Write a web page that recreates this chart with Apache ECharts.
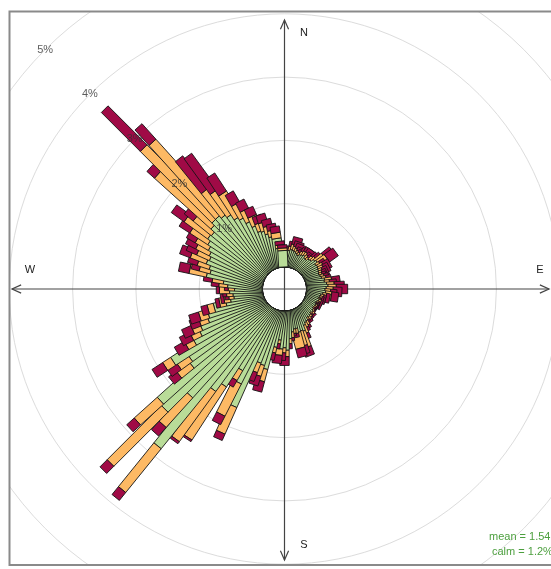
<!DOCTYPE html>
<html>
<head>
<meta charset="utf-8">
<script src="https://cdn.jsdelivr.net/npm/echarts@6/dist/echarts.min.js"></script>
<style>
  html, body { margin: 0; padding: 0; background: #fff; }
  #chart { width: 551px; height: 569px; }
</style>
</head>
<body>
<div id="chart"></div>
<script>
// Wind direction bins (degrees, 3° sectors)
const bearings = [
  0, 3, 6, 9, 12, 15, 18, 21, 24, 27,
  30, 33, 36, 39, 42, 45, 48, 51, 54, 57,
  60, 63, 66, 69, 72, 75, 78, 81, 84, 87,
  90, 93, 96, 99, 102, 105, 108, 111, 114, 117,
  120, 123, 126, 129, 132, 135, 138, 141, 144, 147,
  150, 153, 156, 159, 162, 165, 168, 171, 174, 177,
  180, 183, 186, 189, 192, 195, 198, 201, 204, 207,
  210, 213, 216, 219, 222, 225, 228, 231, 234, 237,
  240, 243, 246, 249, 252, 255, 258, 261, 264, 267,
  270, 273, 276, 279, 282, 285, 288, 291, 294, 297,
  300, 303, 306, 309, 312, 315, 318, 321, 324, 327,
  330, 333, 336, 339, 342, 345, 348, 351, 354, 357
];

// Frequency (%) per direction for each wind speed interval
const lowSpeed = [
  .20, .18, .22, .21, .26, .28, .27, .26, .24, .22,
  .24, .25, .26, .23, .22, .25, .26, .30, .32, .27,
  .28, .27, .26, .25, .24, .25, .26, .30, .29, .32,
  .34, .31, .29, .30, .26, .23, .22, .20, .22, .20,
  .18, .20, .19, .18, .20, .22, .20, .22, .23, .22,
  .26, .27, .30, .38, .36, .37, .30, .30, .34, .44,
  .62, .58, .60, .46, .58, .95, .90, .88, 1.67, 1.30,
  1.10, 1.45, 1.60, 2.84, 1.90, 2.33, 2.29, 1.55, 1.50, 1.75,
  1.30, 1.15, 1.10, .95, .92, .80, .60, .52, .46, .47,
  .52, .44, .55, .62, .90, .85, .88, .95, .92, .95,
  1.00, 1.05, 1.10, 1.08, 1.15, 1.20, 1.20, 1.15, 1.10, 1.00,
  .95, .85, .75, .64, .62, .56, .50, .46, .30, .26
];
const midSpeed = [
  .05, .03, .05, .05, .07, .09, .07, .06, .05, .05,
  .06, .07, .06, .06, .05, .07, .08, .16, .16, .07,
  .09, .08, .06, .05, .05, .06, .07, .11, .08, .12,
  .13, .11, .09, .10, .06, .05, .04, .03, .04, .03,
  .02, .03, .03, .02, .03, .04, .03, .04, .05, .04,
  .07, .08, .13, .26, .24, .25, .08, .07, .09, .08,
  .10, .08, .10, .06, .09, .20, .18, .16, .46, .57,
  .18, 1.00, .98, .89, .63, 1.21, .49, .25, .22, .15,
  .14, .15, .14, .14, .14, .10, .10, .10, .08, .10,
  .16, .10, .14, .18, .28, .18, .20, .27, .22, .24,
  .24, .34, .46, .37, 1.20, 1.60, 1.57, .50, .45, .45,
  .25, .20, .16, .13, .14, .12, .10, .09, .05, .04
];
const highSpeed = [
  .04, .03, .05, .07, .08, .12, .09, .08, .06, .05,
  .07, .08, .08, .06, .05, .09, .10, .16, .17, .09,
  .11, .09, .08, .07, .06, .07, .08, .13, .11, .16,
  .18, .14, .10, .11, .06, .04, .03, .02, .03, .02,
  .02, .02, .02, .02, .02, .03, .02, .03, .04, .03,
  .05, .06, .09, .14, .13, .14, .06, .04, .05, .08,
  .14, .12, .13, .08, .12, .17, .16, .15, .11, .15,
  .12, .03, .04, .16, .18, .16, .16, .15, .18, .20,
  .18, .18, .16, .15, .16, .10, .06, .05, .06, .06,
  .05, .06, .12, .14, .17, .13, .16, .18, .18, .18,
  .16, .20, .25, .18, .16, .87, .33, .65, .70, .34,
  .20, .16, .14, .12, .13, .11, .10, .10, .06, .05
];

// Percentage rings
const ringValues = [1, 2, 3, 4, 5];
const ringLabels = ['1%', '2%', '3%', '4%', '5%'];

const speedColors = ['#B9DC98', '#FDB964', '#A00A46'];
const CX = 284.5, CY = 289;
const HALF_W = 4.7; // half paddle width in px
const FONT = 'Liberation Sans, Arial, Helvetica, sans-serif';

// one item per direction: [total, bearing, low, mid, high]
const roseData = bearings.map((b, i) => [
  lowSpeed[i] + midSpeed[i] + highSpeed[i], b, lowSpeed[i], midSpeed[i], highSpeed[i]
]);

// stacked paddles for a direction, drawn from the centre outwards
function renderPaddles(params, api) {
  const ang = api.value(1);
  const parts = [api.value(2), api.value(3), api.value(4)];
  const o = api.coord([0, ang]);
  const f = api.coord([6, ang]);
  let dx = f[0] - o[0], dy = f[1] - o[1];
  const L = Math.hypot(dx, dy);
  dx /= L; dy /= L;
  const nx = -dy * HALF_W, ny = dx * HALF_W;
  const children = [];
  let start = 0;
  parts.forEach((v, k) => {
    if (v > 0) {
      const a = api.coord([start, ang]);
      const b = api.coord([start + v, ang]);
      children.push({
        type: 'polygon',
        shape: { points: [
          [a[0] + nx, a[1] + ny], [b[0] + nx, b[1] + ny],
          [b[0] - nx, b[1] - ny], [a[0] - nx, a[1] - ny]
        ] },
        style: { fill: speedColors[k], stroke: '#141414', lineWidth: 0.9 }
      });
    }
    start += v;
  });
  return { type: 'group', children };
}

// compass cross with open arrowheads
function arrowHead(tx, ty, ux, uy) {
  const len = 10, spread = 0.42;
  const ang = Math.atan2(uy, ux);
  const p1 = [tx - len * Math.cos(ang - spread), ty - len * Math.sin(ang - spread)];
  const p2 = [tx - len * Math.cos(ang + spread), ty - len * Math.sin(ang + spread)];
  return { type: 'polyline', z: 1, shape: { points: [p1, [tx, ty], p2] },
           style: { stroke: '#444', lineWidth: 1.2, fill: null } };
}

const axisStyle = { stroke: '#444', lineWidth: 1.2 };
const graphics = [
  { type: 'line', z: 1, shape: { x1: CX, y1: 20, x2: CX, y2: 560 }, style: axisStyle },
  { type: 'line', z: 1, shape: { x1: 12, y1: CY, x2: 549, y2: CY }, style: axisStyle },
  arrowHead(CX, 20, 0, -1),
  arrowHead(CX, 560, 0, 1),
  arrowHead(12, CY, -1, 0),
  arrowHead(549, CY, 1, 0),
  { type: 'text', z: 1, style: { text: 'N', x: 304, y: 33, fill: '#222', font: '11px ' + FONT, textAlign: 'center', textVerticalAlign: 'middle' } },
  { type: 'text', z: 1, style: { text: 'S', x: 304, y: 545, fill: '#222', font: '11px ' + FONT, textAlign: 'center', textVerticalAlign: 'middle' } },
  { type: 'text', z: 1, style: { text: 'W', x: 30, y: 270, fill: '#222', font: '11px ' + FONT, textAlign: 'center', textVerticalAlign: 'middle' } },
  { type: 'text', z: 1, style: { text: 'E', x: 540, y: 270, fill: '#222', font: '11px ' + FONT, textAlign: 'center', textVerticalAlign: 'middle' } },
  // statistics
  { type: 'text', z: 20, style: { text: 'mean = 1.54', x: 489, y: 537, fill: '#4C9F3E', font: '11px ' + FONT, textVerticalAlign: 'middle' } },
  { type: 'text', z: 20, style: { text: 'calm = 1.2%', x: 492, y: 552, fill: '#4C9F3E', font: '11px ' + FONT, textVerticalAlign: 'middle' } },
  // panel border and outer margin
  { type: 'rect', z: 100, shape: { x: 0, y: 0, width: 551, height: 11 }, style: { fill: '#fff' } },
  { type: 'rect', z: 100, shape: { x: 0, y: 0, width: 9, height: 569 }, style: { fill: '#fff' } },
  { type: 'rect', z: 100, shape: { x: 0, y: 566, width: 551, height: 3 }, style: { fill: '#fff' } },
  { type: 'rect', z: 101, shape: { x: 9.5, y: 11.5, width: 600, height: 553.5 }, style: { fill: null, stroke: '#8a8a8a', lineWidth: 2 } }
];

const chart = echarts.init(document.getElementById('chart'), null, { renderer: 'canvas' });
chart.setOption({
  animation: false,
  backgroundColor: '#fff',
  polar: { center: [CX, CY], radius: [22, 22 + 63.3 * 6] },
  radiusAxis: {
    type: 'value', min: 0, max: 6, interval: 1,
    axisLine: { show: false }, axisTick: { show: false }, axisLabel: { show: false },
    splitLine: { show: true, lineStyle: { color: '#dcdcdc', width: 1 } }
  },
  angleAxis: {
    type: 'value', min: 0, max: 360, startAngle: 90, clockwise: true,
    axisLine: { show: false }, axisTick: { show: false }, axisLabel: { show: false },
    splitLine: { show: false }
  },
  series: [
    {
      type: 'custom', coordinateSystem: 'polar', silent: true, z: 2,
      data: roseData,
      encode: { radius: 0, angle: 1 },
      renderItem: renderPaddles
    },
    {
      type: 'scatter', coordinateSystem: 'polar', silent: true, z: 10,
      symbolSize: 1, itemStyle: { color: 'transparent' },
      data: ringValues.map((v, i) => ({ value: [v, 315], label: { formatter: ringLabels[i] } })),
      label: { show: true, position: 'inside', color: '#333', fontSize: 11, fontFamily: FONT }
    }
  ],
  graphic: graphics
});
</script>
</body>
</html>
